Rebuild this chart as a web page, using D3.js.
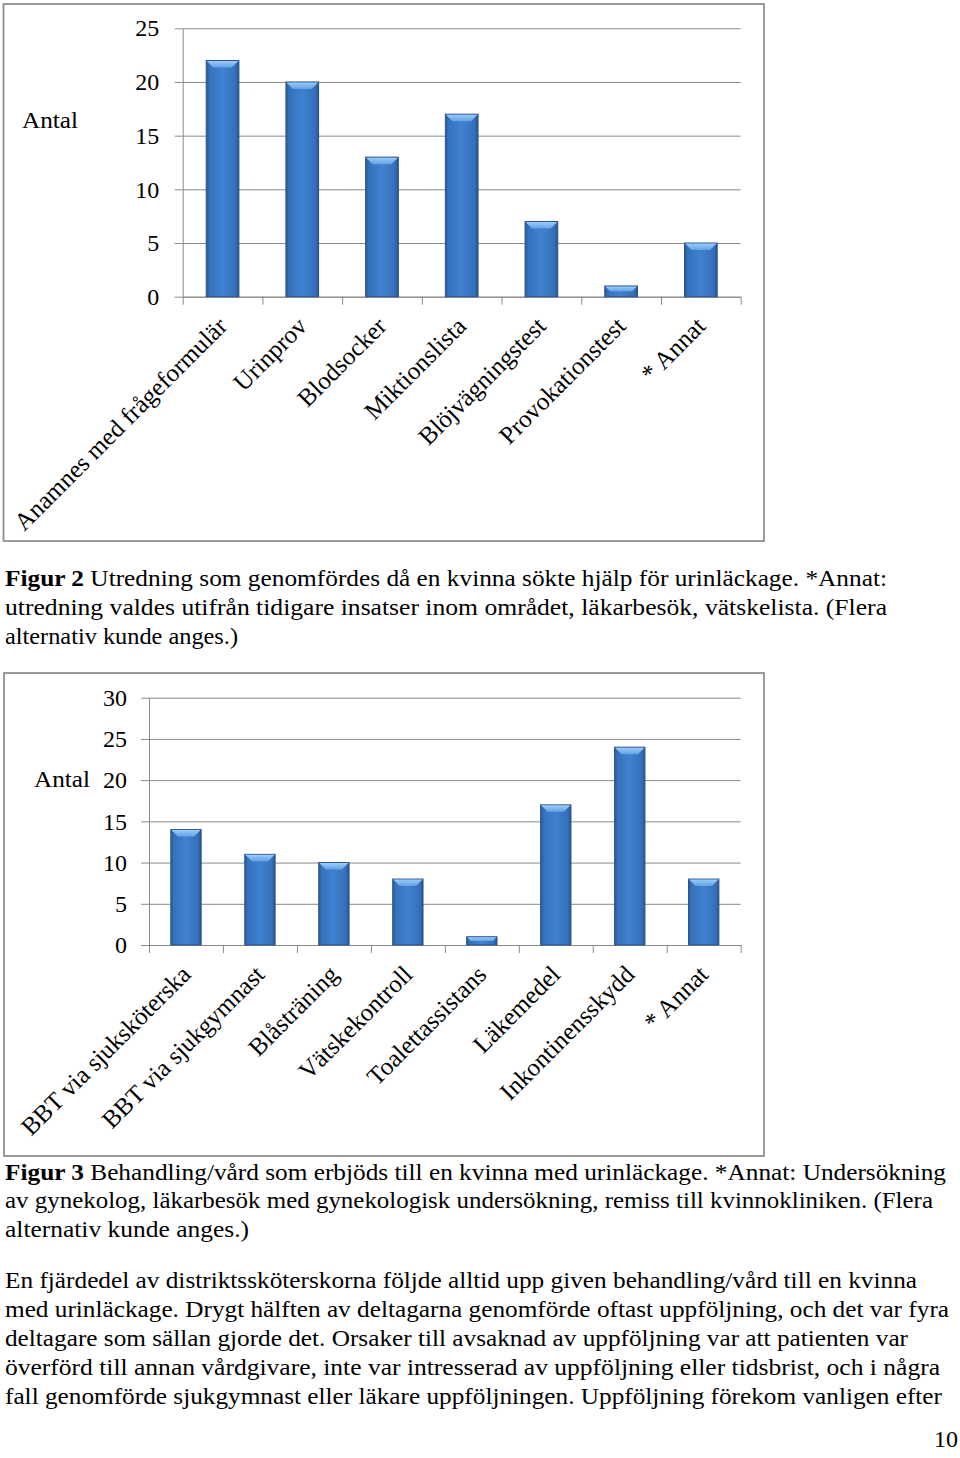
<!DOCTYPE html>
<html>
<head>
<meta charset="utf-8">
<script src="https://cdn.jsdelivr.net/npm/d3@7/dist/d3.min.js"></script>
<style>
  body { margin: 0; background: #fff; }
</style>
</head>
<body>
<div id="page"></div>
<script>
// figur 2
const cats1 = ["Anamnes med frågeformulär", "Urinprov", "Blodsocker", "Miktionslista",
               "Blöjvägningstest", "Provokationstest", "* Annat"];
const vals1 = [22, 20, 13, 17, 7, 1, 5];
const ticks1 = [0, 5, 10, 15, 20, 25];

// figur 3
const cats2 = ["BBT via sjuksköterska", "BBT via sjukgymnast", "Blåsträning", "Vätskekontroll",
               "Toalettassistans", "Läkemedel", "Inkontinensskydd", "* Annat"];
const vals2 = [14, 11, 10, 8, 1, 17, 24, 8];
const ticks2 = [0, 5, 10, 15, 20, 25, 30];

const caption2 = [
  ["Figur 2", " Utredning som genomfördes då en kvinna sökte hjälp för urinläckage. *Annat:"],
  ["", "utredning valdes utifrån tidigare insatser inom området, läkarbesök, vätskelista. (Flera"],
  ["", "alternativ kunde anges.)"]
];
const caption3 = [
  ["Figur 3", " Behandling/vård som erbjöds till en kvinna med urinläckage. *Annat: Undersökning"],
  ["", "av gynekolog, läkarbesök med gynekologisk undersökning, remiss till kvinnokliniken. (Flera"],
  ["", "alternativ kunde anges.)"]
];
const bodyText = [
  "En fjärdedel av distriktssköterskorna följde alltid upp given behandling/vård till en kvinna",
  "med urinläckage. Drygt hälften av deltagarna genomförde oftast uppföljning, och det var fyra",
  "deltagare som sällan gjorde det. Orsaker till avsaknad av uppföljning var att patienten var",
  "överförd till annan vårdgivare, inte var intresserad av uppföljning eller tidsbrist, och i några",
  "fall genomförde sjukgymnast eller läkare uppföljningen. Uppföljning förekom vanligen efter"
];

// pick a Times-like face that is actually installed
function hasFont(name) {
    const ctx = document.createElement("canvas").getContext("2d");
    const s = "abcdefghijklmnopqrstuvwxyzåäöABCDEFGHIJ0123456789";
    let same = true;
    ["monospace", "sans-serif"].forEach(fb => {
        ctx.font = "40px " + fb;
        const a = ctx.measureText(s).width;
        ctx.font = '40px "' + name + '", ' + fb;
        const b = ctx.measureText(s).width;
        if (a !== b) same = false;
    });
    return !same;
}
const FONT = ["Liberation Serif", "Times New Roman", "Tinos", "Nimbus Roman", "Times", "FreeSerif", "DejaVu Serif"]
    .find(hasFont) || "serif";

const W = 960, H = 1458;
const svg = d3.select("#page").append("svg")
    .attr("width", W).attr("height", H);
svg.append("rect").attr("width", W).attr("height", H).attr("fill", "#fff");

const defs = svg.append("defs");
const gradBody = defs.append("linearGradient").attr("id", "barBody")
    .attr("x1", 0).attr("x2", 1).attr("y1", 0).attr("y2", 0);
[[0, "#2a5a9b"], [0.1, "#3571bb"], [0.5, "#4082d1"], [0.9, "#356fb8"], [1, "#26528e"]]
  .forEach(s => gradBody.append("stop").attr("offset", s[0]).attr("stop-color", s[1]));
const gradTop = defs.append("linearGradient").attr("id", "barTop")
    .attr("x1", 0).attr("x2", 0).attr("y1", 0).attr("y2", 1);
[[0, "#9ccbf7"], [1, "#62a2e6"]]
  .forEach(s => gradTop.append("stop").attr("offset", s[0]).attr("stop-color", s[1]));

function drawChart(c) {
    svg.append("rect")
        .attr("x", c.frame[0]).attr("y", c.frame[1])
        .attr("width", c.frame[2]).attr("height", c.frame[3])
        .attr("fill", "none").attr("stroke", "#8f8f8f").attr("stroke-width", 1.8);

    const g = svg.append("g");
    const w = c.x1 - c.x0;

    const x = d3.scaleBand()
        .domain(c.cats)
        .range([c.x0, c.x1])
        .paddingInner(0.59)
        .paddingOuter(0.295);
    const xb = d3.scaleLinear().domain([0, c.cats.length]).range([c.x0, c.x1]);
    const y = d3.scaleLinear().domain([0, c.ymax]).range([c.yb, c.yt]);

    // gridlines
    g.append("g")
        .attr("transform", "translate(" + c.x0 + ",0)")
        .call(d3.axisLeft(y).tickValues(c.ticks).tickSize(-w).tickFormat(""))
        .call(a => a.select(".domain").remove())
        .selectAll("line").attr("stroke", "#8a8a8a");

    // y axis
    const ya = g.append("g")
        .attr("transform", "translate(" + c.x0 + ",0)")
        .call(d3.axisLeft(y).tickValues(c.ticks).tickSize(8).tickPadding(c.pad).tickSizeOuter(0));
    ya.select(".domain").attr("stroke", "#8a8a8a");
    ya.selectAll("line").attr("stroke", "#8a8a8a");
    ya.selectAll("text").attr("font-size", 24).style("font-family", FONT).attr("fill", "#000");

    // x axis with ticks on category boundaries
    const xa = g.append("g")
        .attr("transform", "translate(0," + c.yb + ")")
        .call(d3.axisBottom(xb).tickValues(d3.range(c.cats.length + 1)).tickSize(8).tickFormat("").tickSizeOuter(0));
    xa.select(".domain").attr("stroke", "#8a8a8a");
    xa.selectAll("line").attr("stroke", "#8a8a8a");

    // bars
    const bars = g.selectAll(".bar").data(c.cats.map((k, i) => ({k: k, v: c.vals[i]})))
        .enter().append("g").attr("class", "bar");
    bars.append("rect")
        .attr("x", d => x(d.k))
        .attr("y", d => y(d.v))
        .attr("width", x.bandwidth())
        .attr("height", d => y(0) - y(d.v))
        .attr("fill", "url(#barBody)")
        .attr("stroke", "#2a5288").attr("stroke-width", 1);
    bars.append("polygon")
        .attr("points", d => {
            const x0 = x(d.k), x1 = x0 + x.bandwidth(), t = y(d.v);
            const b = Math.min(7, (y(0) - y(d.v)) * 0.5);
            return [[x0 + 0.5, t + 0.5], [x1 - 0.5, t + 0.5], [x1 - b, t + b], [x0 + b, t + b]].join(" ");
        })
        .attr("fill", "url(#barTop)");

    // category labels
    g.selectAll(".cat").data(c.cats).enter().append("text")
        .attr("class", "cat")
        .attr("transform", d => "translate(" + (x(d) + x.bandwidth() / 2 + 6) + "," + (c.yb + 31) + ") rotate(-45)")
        .attr("text-anchor", "end")
        .attr("font-size", 25)
        .style("font-family", FONT)
        .text(d => d);

    svg.append("text")
        .attr("x", c.antal[0]).attr("y", c.antal[1])
        .attr("font-size", 24)
        .style("font-family", FONT)
        .attr("textLength", 56).attr("lengthAdjust", "spacingAndGlyphs")
        .text("Antal");
}

drawChart({
    frame: [3.5, 4, 760.5, 537],
    x0: 182.7, x1: 740.7, yt: 28.3, yb: 296.7,
    cats: cats1, vals: vals1, ticks: ticks1, ymax: 25,
    pad: 15.5, antal: [22, 128]
});
drawChart({
    frame: [4, 673, 760, 483],
    x0: 149, x1: 740.7, yt: 697.7, yb: 945,
    cats: cats2, vals: vals2, ticks: ticks2, ymax: 30,
    pad: 14, antal: [34, 787]
});

function textLines(lines, baselines, ends) {
    lines.forEach((ln, i) => {
        const t = svg.append("text")
            .attr("x", 5).attr("y", baselines[i])
            .attr("font-size", 23)
            .style("font-family", FONT)
            .attr("textLength", ends[i] - 5).attr("lengthAdjust", "spacingAndGlyphs");
        if (Array.isArray(ln)) {
            if (ln[0]) t.append("tspan").attr("font-weight", "bold").text(ln[0]);
            t.append("tspan").text(ln[1]);
        } else {
            t.text(ln);
        }
    });
}

textLines(caption2, [586, 615, 644], [887, 887, 238]);
textLines(caption3, [1180, 1208, 1237], [946, 933, 249]);
textLines(bodyText, [1288, 1317, 1346, 1375, 1404], [917, 949, 908, 940, 942]);

svg.append("text")
    .attr("x", 958).attr("y", 1447)
    .attr("text-anchor", "end")
    .attr("font-size", 24)
    .style("font-family", FONT)
    .text("10");
</script>
</body>
</html>
